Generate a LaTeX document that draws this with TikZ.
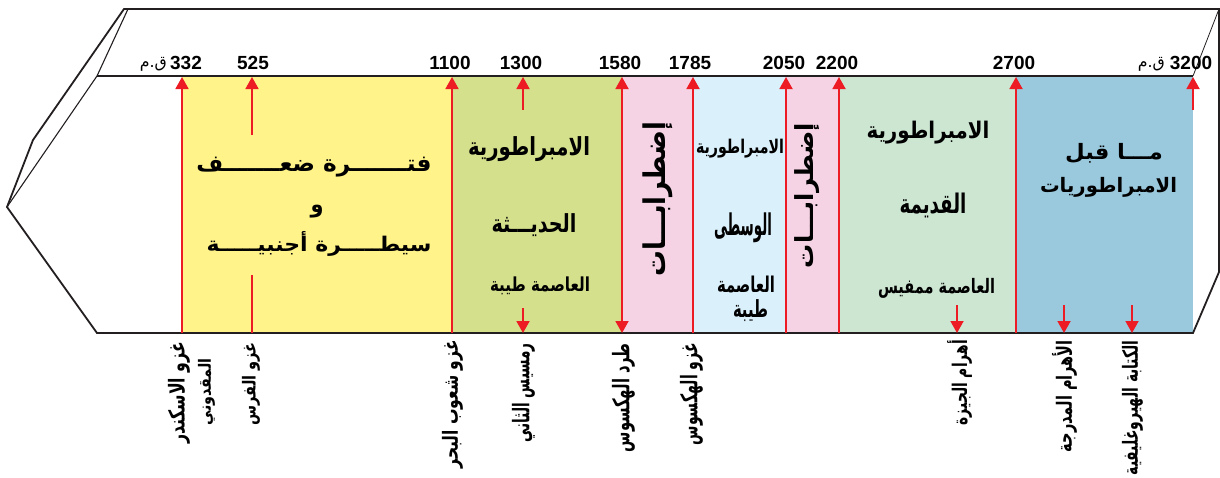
\documentclass[tikz,border=0pt]{standalone}
\usepackage{fontspec}
\setmainfont{Liberation Sans}
\newfontfamily\ar[Script=Arabic]{DejaVu Sans}
\TeXXeTstate=1
\XeTeXuseglyphmetrics=1
\usetikzlibrary{arrows.meta}
\definecolor{redA}{HTML}{ED1C24}
\definecolor{lineK}{HTML}{231F20}
\definecolor{cYel}{HTML}{FFF38A}
\definecolor{cOli}{HTML}{D4E08C}
\definecolor{cPnk}{HTML}{F5D3E4}
\definecolor{cLbl}{HTML}{DAF0FB}
\definecolor{cLgr}{HTML}{CDE6D2}
\definecolor{cBlu}{HTML}{9AC9DE}
\newcommand{\fitar}[3]{\resizebox*{#1pt}{#2pt}{#3}}
\tikzset{
  outl/.style={draw=lineK, line width=1.8pt, line join=miter},
  redl/.style={draw=redA, line width=1.8pt},
  upar/.style={redl, -{Triangle[length=12pt,width=13pt]}},
  num/.style={font=\fontsize{19}{19}\selectfont\bfseries, anchor=base, inner sep=0pt},
  qm/.style={font=\ar\fontsize{14}{14}\selectfont, anchor=south east, inner sep=0pt},
  ttl/.style={font=\ar\bfseries\fontsize{22}{26}\selectfont, inner sep=0pt},
  vlab/.style={font=\ar\bfseries\fontsize{22}{26}\selectfont, rotate=90, inner sep=0pt},
  lab/.style={font=\ar\bfseries\fontsize{13}{15}\selectfont, rotate=90, anchor=east, inner sep=0pt},
}
\begin{document}
\begin{tikzpicture}[x=1pt,y=-1pt]
\useasboundingbox (0,0) rectangle (1220,477);
% bands
\fill[cYel] (182,76) rectangle (452,333);
\fill[cOli] (452,76) rectangle (622,333);
\fill[cPnk] (622,76) rectangle (693,333);
\fill[cLbl] (693,76) rectangle (786,333);
\fill[cPnk] (786,76) rectangle (839,333);
\fill[cLgr] (839,76) rectangle (1016,333);
\fill[cBlu] (1016,76) rectangle (1193,333);
% outline
\draw[outl] (1219,9) -- (124,9) -- (33,140) -- (7,207) -- (97,333) -- (1193,333) -- (1219,272) -- cycle;
\draw[draw=lineK, line width=1.1pt] (128,9) -- (97,76) -- (7,207);
\draw[draw=lineK, line width=1.1pt] (97,76) -- (1193,76);
\draw[draw=lineK, line width=0.8pt] (1219,9) -- (1193,76);
% tick coordinates
\foreach \n/\x in {332/182,525/252,1100/452,1300/523,1580/622,1785/693,2050/786,2200/839,2700/1016,3200/1193}{
  \coordinate (t\n) at (\x,77);
  \coordinate (b\n) at (\x,333);
}
\coordinate (s525a) at (252,135);
\coordinate (s525b) at (252,275);
\coordinate (s1300a) at (523,110);
\coordinate (s1300b) at (523,308);
\coordinate (s3200) at (1193,110);
\coordinate (pg) at (957,305);  \coordinate (pgb) at (957,333);
\coordinate (pd) at (1064,305); \coordinate (pdb) at (1064,333);
\coordinate (hw) at (1132,305); \coordinate (hwb) at (1132,333);
% red lines
\foreach \n in {332,1100,1785,2050,2200,2700}{ \draw[upar] (b\n) -- (t\n); }
\draw[redl, {Triangle[length=12pt,width=13pt]}-{Triangle[length=12pt,width=13pt]}] (b1580) -- (t1580);
\draw[upar] (s525a) -- (t525);
\draw[redl] (s525b) -- (b525);
\draw[upar] (s1300a) -- (t1300);
\draw[upar] (s1300b) -- (b1300);
\draw[upar] (s3200) -- (t3200);
\draw[upar] (pg) -- (pgb);
\draw[upar] (pd) -- (pdb);
\draw[upar] (hw) -- (hwb);
% numbers
\node[num] (n332) at (186,69) {332};
\node[qm] (q332) at (167,72) {\fitar{27}{14}{\beginR ق.م\endR}};
\node[num] (n525) at (253,69) {525};
\node[num] (n1100) at (450,69) {1100};
\node[num] (n1300) at (521,69) {1300};
\node[num] (n1580) at (620,69) {1580};
\node[num] (n1785) at (690,69) {1785};
\node[num] (n2050) at (784,69) {2050};
\node[num] (n2200) at (837,69) {2200};
\node[num] (n2700) at (1014,69) {2700};
\node[num] (n3200) at (1191,69) {3200};
\node[qm] (q3200) at (1165,72) {\fitar{27}{14}{\beginR ق.م\endR}};
% yellow band
\node[ttl] (y1) at (314,166.7) {\fitar{235}{20}{\beginR فتـــــــرة ضعـــــــف\endR}};
\node[ttl] (y2) at (317,211.5) {\fitar{13}{13}{\beginR و\endR}};
\node[ttl] (y3) at (319,244) {\fitar{225}{25}{\beginR سيطـــــرة أجنبيـــــة\endR}};
% olive band
\node[ttl] (o1) at (529,149) {\fitar{122}{25}{\beginR الامبراطورية\endR}};
\node[ttl] (o2) at (534,225) {\fitar{85}{23}{\beginR الحديـــثة\endR}};
\node[ttl] (o3) at (540,286) {\fitar{100}{18}{\beginR العاصمة طيبة\endR}};
% pink bands
\node[vlab] (p1) at (658,199) {\fitar{155}{30}{\beginR إضطرابـــات\endR}};
\node[vlab] (p2) at (807.5,195.5) {\fitar{145}{25}{\beginR إضطرابـــات\endR}};
% light blue band
\node[ttl] (m1) at (740,149) {\fitar{88}{19}{\beginR الامبراطورية\endR}};
\node[ttl] (m2) at (743,228) {\fitar{58}{30}{\beginR الوسطى\endR}};
\node[ttl] (m3) at (746,285) {\fitar{58}{17}{\beginR العاصمة\endR}};
\node[ttl] (m4) at (750.5,311) {\fitar{35}{22}{\beginR طيبة\endR}};
% light green band
\node[ttl] (g1) at (928,133) {\fitar{123}{23}{\beginR الامبراطورية\endR}};
\node[ttl] (g2) at (933,205.5) {\fitar{67}{25}{\beginR القديمة\endR}};
\node[ttl] (g3) at (936.5,288) {\fitar{117}{20}{\beginR العاصمة ممفيس\endR}};
% blue band
\node[ttl] (u1) at (1114,153) {\fitar{98}{20}{\beginR مـــا قبل\endR}};
\node[ttl] (u2) at (1108.5,187) {\fitar{137}{20}{\beginR الامبراطوريات\endR}};
% bottom labels
\node[lab] (l1) at (179,341.7) {\fitar{102}{22}{\beginR غزو الاسكندر\endR}};
\node[lab] (l1b) at (206.5,358) {\fitar{67}{17}{\beginR المقدوني\endR}};
\node[lab] (l2) at (251,342) {\fitar{83}{18}{\beginR غزو الفرس\endR}};
\node[lab] (l3) at (452.5,340) {\fitar{128}{21}{\beginR غزو شعوب البحر\endR}};
\node[lab] (l4) at (523.5,343) {\fitar{99}{23}{\beginR رمسيس الثاني\endR}};
\node[lab] (l5) at (623.5,343) {\fitar{109}{23}{\beginR طرد الهكسوس\endR}};
\node[lab] (l6) at (691.5,343) {\fitar{102}{23}{\beginR غزو الهكسوس\endR}};
\node[lab] (l7) at (959.5,340) {\fitar{85}{25}{\beginR أهرام الجيزة\endR}};
\node[lab] (l8) at (1064.5,340) {\fitar{112}{25}{\beginR الأهرام المدرجة\endR}};
\node[lab] (l9) at (1132.5,340) {\fitar{135}{21}{\beginR الكتابة الهيروغليفية\endR}};
\end{tikzpicture}
\end{document}
